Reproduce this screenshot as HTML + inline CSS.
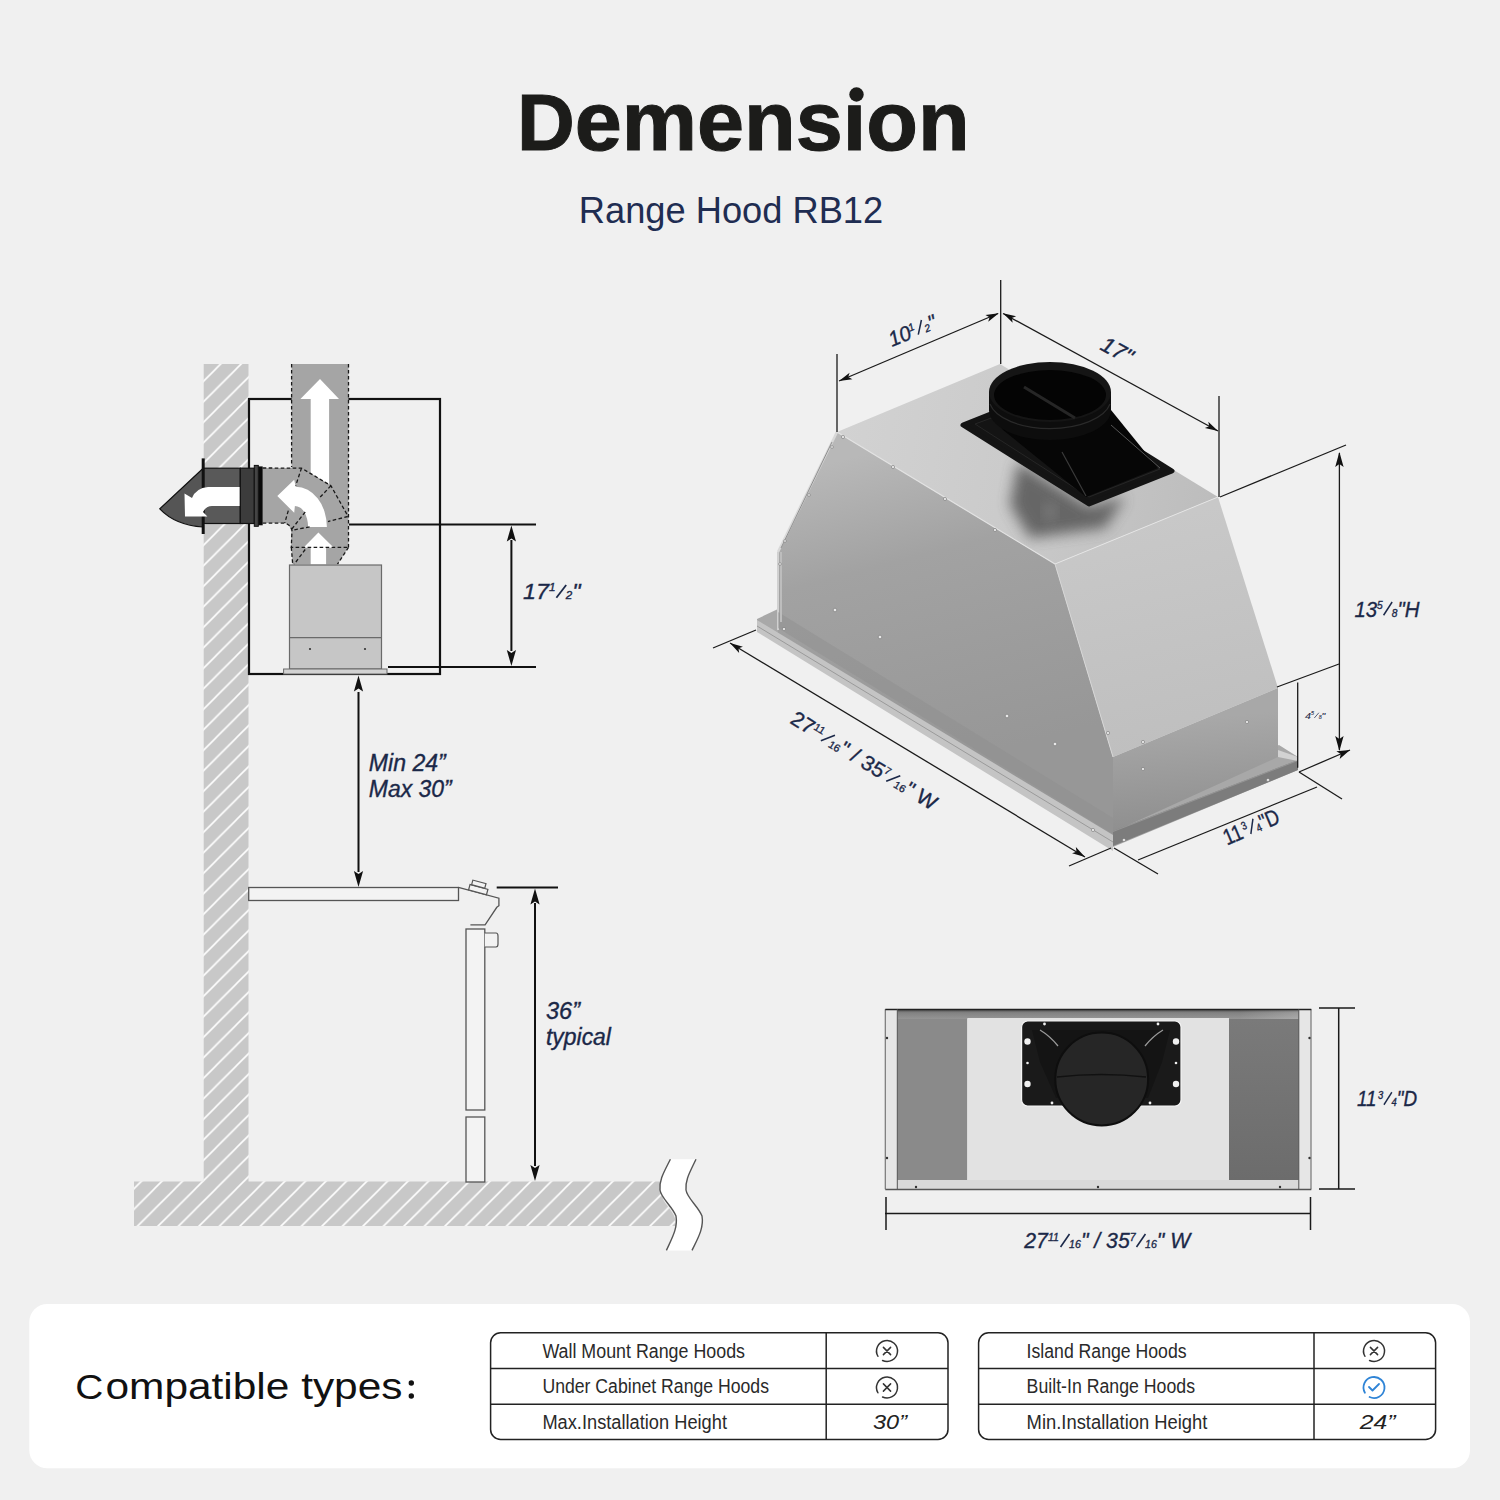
<!DOCTYPE html>
<html><head><meta charset="utf-8">
<style>
html,body{margin:0;padding:0;background:#f0f0f0;}
body{width:1500px;height:1500px;overflow:hidden;position:relative;font-family:"Liberation Sans",sans-serif;}
svg{position:absolute;left:0;top:0;display:block;}
</style></head>
<body>
<svg width="1500" height="1500" viewBox="0 0 1500 1500">
<rect width="1500" height="1500" fill="#f0f0f0"/>
<g font-family="Liberation Sans" font-weight="bold" font-size="80" fill="#1c1c1a" stroke="#1c1c1a" stroke-width="1"><text transform="translate(517,149.5) scale(1.0,1)">D</text><text transform="translate(574.8,149.5) scale(1.0575,1.05)">emension</text></g>
<rect x="845" y="84" width="20" height="17" fill="#f0f0f0"/><circle cx="856.5" cy="94.5" r="7.2" fill="#1c1c1a"/>
<text transform="translate(731,223) scale(0.98,1)" text-anchor="middle" font-family="Liberation Sans" font-size="37" fill="#1f2d52">Range Hood RB12</text>
<!-- LEFT DIAGRAM -->
<defs>
  <pattern id="hatch" patternUnits="userSpaceOnUse" width="20.5" height="20.5" patternTransform="translate(10.7,0)">
    <rect x="-1" y="-1" width="23" height="23" fill="#c8c8c8"/>
    <path d="M-3,23.5 L23.5,-3 M-3,3 L3,-3 M17.5,23.5 L23.5,17.5" stroke="#ffffff" stroke-width="1.6"/>
  </pattern>
</defs>
<!-- wall + floor -->
<rect x="203.7" y="364" width="44.8" height="820" fill="url(#hatch)"/>
<path d="M134,1181.6 L671,1181.6 C668,1190 660,1195 664,1201 C670,1210 676,1214 676,1226 L134,1226 Z" fill="url(#hatch)"/>
<!-- break symbol -->
<path d="M670.4,1159.2 C664,1172 659,1180 660,1190 C661,1198 672,1206 676,1216 C678,1228 672,1238 666.4,1250.4 L692,1250.4 C698,1238 704,1228 702,1216 C698,1206 687,1198 686,1190 C685,1180 690,1172 696,1159.2 Z" fill="#ffffff"/>
<path d="M670.4,1159.2 C664,1172 659,1180 660,1190 C661,1198 672,1206 676,1216 C678,1228 672,1238 666.4,1250.4 M696,1159.2 C690,1172 685,1180 686,1190 C687,1198 698,1206 702,1216 C704,1228 698,1238 692,1250.4" fill="none" stroke="#555" stroke-width="1.4"/>

<!-- cabinet box -->
<rect x="249" y="399" width="191" height="275" fill="none" stroke="#111" stroke-width="2.2"/>

<!-- duct vertical + elbow (gray) -->
<path d="M291.6,364 L348.5,364 L348.5,547.3 L291.3,547.3 L291.3,532 Q290,524 284.7,523.1 L262.7,523.1 L262.7,468 L291.6,468 Z" fill="#a5a5a5"/>
<polygon points="291.3,547 348.5,547 337.5,564.5 292.7,564.5" fill="#a5a5a5"/>
<!-- white arrows -->
<polygon points="310.7,473.2 310.7,399 300.4,399 320,379 339,399 329.1,399 329.1,484.2" fill="#fff"/>
<path d="M295.7,486.8 A31.2,40.3 0 0 1 326.9,527.1 L308.1,527.1 A13.2,21.2 0 0 0 294.9,505.9 L294.2,512.8 L277.3,496 L294.2,479.8 Z" fill="#fff"/>
<polygon points="310.7,564.5 310.7,547.7 303.4,547.7 318.4,532.6 333.8,547.7 326.1,547.7 326.1,564.5" fill="#fff"/>
<!-- dashed outlines -->
<g fill="none" stroke="#1a1a1a" stroke-width="1.3" stroke-dasharray="3.6,2.4">
  <path d="M291.6,364 L291.6,467"/>
  <path d="M348.5,364 L348.5,547.3"/>
  <path d="M262.7,468 L301.5,468.1 L330.9,485.7 L347.8,515.8"/>
  <path d="M262.7,523.1 L284.7,523.1 Q291,525 292,530.4 L291.3,547.3 L348.5,547.3"/>
  <path d="M301.5,468.1 L295.7,485.7 M330.9,485.7 L319.9,497.4 M347.8,516.5 L328,521.6 M305.2,512 L291.3,529.7 M309.6,526.8 L292,530.4 M288.3,510.6 L284.7,523.1"/>
  <path d="M291.3,547.3 L292.7,564.2 M348.5,547.3 L337.5,564.2 M305.2,549.5 L294.2,564.2"/>
</g>
<!-- exhaust -->
<path d="M203.2,468.2 L159.8,508.8 Q175,525 203.2,527 Z" fill="#555" stroke="#111" stroke-width="1.2"/>
<rect x="203.2" y="468.2" width="37.1" height="55.3" fill="#595959" stroke="#111" stroke-width="1.2"/>
<rect x="240.3" y="468.2" width="14" height="55.3" fill="#3c3c3c" stroke="#111" stroke-width="1.2"/>
<rect x="254.3" y="465.4" width="4" height="60.9" fill="#444" stroke="#111" stroke-width="1"/>
<rect x="258.3" y="466.4" width="4.4" height="58.9" fill="#0a0a0a"/>
<rect x="201.7" y="458.4" width="3" height="75.6" fill="#111"/>
<path d="M239.6,487 L208,487 Q196,488 192,498 L184.5,493.4 L185,516.5 L207.4,516.5 L203,512 Q206,506 212,506 L239.6,506 Z" fill="#fff"/>

<!-- hood side view -->
<rect x="289.5" y="565" width="92" height="104" fill="#c6c6c6" stroke="#6a6a6a" stroke-width="1.2"/>
<line x1="289.5" y1="637.6" x2="381.5" y2="637.6" stroke="#6a6a6a" stroke-width="1.2"/>
<circle cx="310" cy="649" r="1.1" fill="#333"/><circle cx="365" cy="649" r="1.1" fill="#333"/>
<rect x="283.6" y="669" width="103.4" height="5" fill="#d2d2d2" stroke="#6a6a6a" stroke-width="1"/>

<!-- 17 1/2 dim -->
<g stroke="#111" stroke-width="2">
<line x1="349" y1="524.5" x2="536" y2="524.5"/>
<line x1="388" y1="667" x2="536" y2="667"/>
<line x1="511.4" y1="540" x2="511.4" y2="651"/>
<line x1="358.5" y1="692" x2="358.5" y2="872"/>
<line x1="535" y1="903" x2="535" y2="1166"/>
</g>
<polygon points="511.40,525.50 516.00,541.50 511.40,538.50 506.80,541.50" fill="#111"/><polygon points="511.40,666.00 506.80,650.00 511.40,653.00 516.00,650.00" fill="#111"/><polygon points="358.50,675.50 363.10,691.50 358.50,688.50 353.90,691.50" fill="#111"/><polygon points="358.50,887.00 353.90,871.00 358.50,874.00 363.10,871.00" fill="#111"/><polygon points="535.00,888.50 539.60,904.50 535.00,901.50 530.40,904.50" fill="#111"/><polygon points="535.00,1181.00 530.40,1165.00 535.00,1168.00 539.60,1165.00" fill="#111"/>

<!-- counter and range -->
<rect x="248.7" y="887.5" width="209.8" height="13" fill="#f3f3f3" stroke="#555" stroke-width="1.3"/>
<path d="M458.4,887.4 L498.9,898.2 L498.9,905.7 L496.8,907.3 L485.1,924.9 L470.4,924.9" fill="none" stroke="#555" stroke-width="1.3"/>
<rect x="469" y="886.8" width="18.5" height="5.6" transform="rotate(15 478.2 889.6)" fill="#f3f3f3" stroke="#555" stroke-width="1.2"/>
<rect x="472" y="881.8" width="13.6" height="4.8" transform="rotate(15 478.8 884.2)" fill="#f3f3f3" stroke="#555" stroke-width="1.2"/>
<rect x="466" y="929" width="18.8" height="181" fill="#f3f3f3" stroke="#555" stroke-width="1.3"/>
<path d="M484.8,933 L496,933 Q498,933 498,936 L498,944 Q498,947 496,947 L484.8,947" fill="#f3f3f3" stroke="#555" stroke-width="1.2"/>
<rect x="466" y="1117" width="18.8" height="65" fill="#f3f3f3" stroke="#555" stroke-width="1.3"/>
<line x1="496.7" y1="887.5" x2="558" y2="887.5" stroke="#111" stroke-width="2"/>


<!-- ISO HOOD -->
<defs>
  <linearGradient id="gFront" gradientUnits="userSpaceOnUse" x1="880" y1="450" x2="960" y2="760">
    <stop offset="0" stop-color="#b8b8b8"/><stop offset="0.35" stop-color="#a2a2a2"/><stop offset="1" stop-color="#979797"/>
  </linearGradient>
  <linearGradient id="gTop" gradientUnits="userSpaceOnUse" x1="840" y1="430" x2="1210" y2="500">
    <stop offset="0" stop-color="#d2d2d2"/><stop offset="0.45" stop-color="#cbcbcb"/><stop offset="1" stop-color="#bdbdbd"/>
  </linearGradient>
  <linearGradient id="gRight" gradientUnits="userSpaceOnUse" x1="1150" y1="520" x2="1200" y2="740">
    <stop offset="0" stop-color="#c8c8c8"/><stop offset="1" stop-color="#bfbfbf"/>
  </linearGradient>
  <linearGradient id="gRightLow" gradientUnits="userSpaceOnUse" x1="1180" y1="720" x2="1190" y2="830">
    <stop offset="0" stop-color="#a8a8a8"/><stop offset="1" stop-color="#8e8e8e"/>
  </linearGradient>
  <filter id="blur10" x="-50%" y="-50%" width="200%" height="200%"><feGaussianBlur stdDeviation="7"/></filter>
</defs>
<!-- tray back/inner -->
<polygon points="757,619 778,609 1113,815 1279,745 1298,757 1298,770 1113,847 757,631" fill="#a8a8a8"/>
<!-- front faces -->
<polygon points="837,432 1055,564 1113,757 1113,840 778,634 778,552" fill="url(#gFront)"/>
<line x1="837" y1="432" x2="778" y2="552" stroke="#d8d8d8" stroke-width="2.5"/>
<line x1="832" y1="442" x2="781" y2="548" stroke="#8f8f8f" stroke-width="1"/>
<line x1="778" y1="552" x2="778" y2="630" stroke="#d0d0d0" stroke-width="2"/>
<polygon points="778,612 1113,818 1113,834 778,628" fill="#8e8e8e" opacity="0.45"/>
<line x1="781" y1="552" x2="781" y2="622" stroke="#bdbdbd" stroke-width="2"/>
<!-- right chamfer -->
<polygon points="1055,564 1218,497 1278,688 1113,757" fill="url(#gRight)"/>
<!-- right lower -->
<polygon points="1113,757 1278,688 1278,757 1113,832" fill="url(#gRightLow)"/>
<!-- top -->
<polygon points="837,432 1000,364 1218,497 1055,564" fill="url(#gTop)"/>
<clipPath id="clipTop"><polygon points="837,432 1000,364 1218,497 1055,564"/></clipPath><g clip-path="url(#clipTop)"><polygon points="1018,462 1089,506 1125,497 1105,528 1030,538 1010,505" fill="#555" opacity="0.85" filter="url(#blur10)"/><ellipse cx="1050" cy="512" rx="5" ry="9" fill="#9a9a9a" opacity="0.6" filter="url(#blur10)"/></g>
<line x1="837" y1="432" x2="1055" y2="564" stroke="#e2e2e2" stroke-width="1.2"/>
<line x1="1055" y1="564" x2="1218" y2="497" stroke="#e4e4e4" stroke-width="1"/>
<line x1="1055" y1="564" x2="1113" y2="757" stroke="#d6d6d6" stroke-width="1"/>
<!-- tray front strips -->
<polygon points="757,620 1113,835 1113,851 757,632" fill="#c4c4c4"/>
<line x1="757" y1="626" x2="1113" y2="842" stroke="#9a9a9a" stroke-width="1"/>
<polygon points="1113,831 1298,760 1298,770 1113,846" fill="#7c7c7c"/>
<line x1="1113" y1="831.5" x2="1298" y2="760.5" stroke="#9a9a9a" stroke-width="0.8"/>
<polygon points="1278,750 1298,757 1298,761 1278,757" fill="#d2d2d2"/>
<!-- duct plate -->
<polygon points="963,425 1046,392 1172,471 1089,504" fill="#141414" stroke="#141414" stroke-width="5" stroke-linejoin="round"/>
<polygon points="975,424 1046,398 1160,469 1089,497" fill="none" stroke="#262626" stroke-width="1"/>
<!-- transition -->
<polygon points="989,410 1003,430 1086,497 1158,468 1111,410" fill="#060606"/>
<path d="M1086,496 L1062,452" stroke="#3a3a3a" stroke-width="1.2"/>
<path d="M1111,425 L1160,468" stroke="#555" stroke-width="1"/>

<!-- cylinder -->
<path d="M989,392 L989,410 A61,30 0 0 0 1111,410 L1111,392 Z" fill="#0d0d0d"/>
<path d="M990,404 A61,30 0 0 0 1110,404" fill="none" stroke="#2a2a2a" stroke-width="1.2"/>
<ellipse cx="1050" cy="392" rx="61" ry="30" fill="#151515"/>
<ellipse cx="1050" cy="395" rx="56" ry="25" fill="#040404"/>
<path d="M1024,387 L1075,418" stroke="#262626" stroke-width="3"/>
<!-- screws -->
<g fill="#e8e8e8" stroke="#777" stroke-width="0.6">
 <circle cx="843" cy="437" r="1.6"/><circle cx="893" cy="467" r="1.6"/><circle cx="945" cy="499" r="1.6"/><circle cx="995" cy="530" r="1.6"/>
 <circle cx="832" cy="447" r="1.4"/><circle cx="809" cy="495" r="1.4"/><circle cx="785" cy="541" r="1.4"/><circle cx="780" cy="564" r="1.4"/>
 <circle cx="835" cy="610" r="1.8"/><circle cx="880" cy="637" r="1.8"/><circle cx="1007" cy="716" r="1.8"/><circle cx="1055" cy="744" r="1.8"/>
 <circle cx="1143" cy="742" r="1.6"/><circle cx="1108" cy="733" r="1.6"/><circle cx="1247" cy="722" r="1.6"/><circle cx="1143" cy="769" r="1.6"/>
 <circle cx="1093" cy="830" r="1.6"/><circle cx="1124" cy="840" r="1.6"/><circle cx="1268" cy="780" r="1.6"/><circle cx="784" cy="629" r="1.6"/>
</g>

<!-- iso dims -->
<g stroke="#1a1a1a" stroke-width="1.3" fill="none">
 <line x1="837" y1="354" x2="837" y2="432"/>
 <line x1="1000.7" y1="280" x2="1000.7" y2="364"/>
 <line x1="839" y1="381" x2="998" y2="313.5"/>
 <line x1="1003" y1="313.5" x2="1218" y2="431"/>
 <line x1="1219" y1="396" x2="1219" y2="497"/>
 <line x1="1220" y1="497" x2="1346" y2="445"/>
 <line x1="1339.4" y1="453" x2="1339.4" y2="750"/>
 <line x1="1277" y1="687" x2="1339" y2="664"/>
 <line x1="1297.7" y1="682.6" x2="1297.7" y2="767.7"/>
 <line x1="1299" y1="772" x2="1350" y2="750"/>
 <line x1="730" y1="643" x2="1085" y2="857"/>
 <line x1="713" y1="648" x2="756" y2="630"/>
 <line x1="1069" y1="866" x2="1111" y2="848"/>
 <line x1="1114" y1="848" x2="1158" y2="874"/>
 <line x1="1299" y1="772" x2="1342" y2="799"/>
 <line x1="1138" y1="860" x2="1317" y2="787"/>
</g>
<polygon points="998.80,313.30 988.21,321.66 989.58,317.18 985.42,315.02" fill="#111"/><polygon points="839.00,381.00 849.59,372.64 848.22,377.12 852.38,379.28" fill="#111"/><polygon points="1003.00,313.30 1016.14,316.34 1011.79,318.07 1012.71,322.66" fill="#111"/><polygon points="1218.00,431.00 1204.86,427.96 1209.21,426.23 1208.29,421.64" fill="#111"/><polygon points="1339.40,452.00 1343.60,467.00 1339.40,464.00 1335.20,467.00" fill="#111"/><polygon points="1339.40,751.00 1335.20,736.00 1339.40,739.00 1343.60,736.00" fill="#111"/><polygon points="1350.00,750.00 1339.67,758.94 1340.79,753.90 1336.39,751.21" fill="#111"/><polygon points="730.00,643.00 742.95,646.79 738.50,648.27 739.15,652.91" fill="#111"/><polygon points="1085.00,857.00 1072.05,853.21 1076.50,851.73 1075.85,847.09" fill="#111"/>

<!-- BOTTOM VIEW -->
<defs>
  <linearGradient id="gRP" x1="0" y1="0" x2="0" y2="1">
    <stop offset="0" stop-color="#7a7a7a"/><stop offset="1" stop-color="#6c6c6c"/>
  </linearGradient>
  <linearGradient id="gTS" x1="0" y1="0" x2="0" y2="1">
    <stop offset="0" stop-color="#555"/><stop offset="0.3" stop-color="#828282"/><stop offset="1" stop-color="#959595"/>
  </linearGradient>
  <linearGradient id="gTSx" x1="0" y1="0" x2="1" y2="0">
    <stop offset="0" stop-color="#fff" stop-opacity="0"/><stop offset="0.85" stop-color="#fff" stop-opacity="0"/><stop offset="1" stop-color="#fff" stop-opacity="0.2"/>
  </linearGradient>
</defs>
<rect x="885.3" y="1009.3" width="426" height="180" fill="#e6e6e6"/>
<rect x="897.3" y="1010" width="401.5" height="9" fill="url(#gTS)"/>
<rect x="897.3" y="1010" width="401.5" height="9" fill="url(#gTSx)"/>
<rect x="897.3" y="1019" width="70" height="161" fill="#8a8a8a"/>
<rect x="967.3" y="1018" width="261.7" height="162" fill="#e2e2e2"/>
<rect x="1229" y="1019" width="69.8" height="161" fill="url(#gRP)"/>
<rect x="897.3" y="1180" width="401.5" height="9.3" fill="#d9d9d9"/>
<line x1="885.3" y1="1009.3" x2="885.3" y2="1189.3" stroke="#777" stroke-width="1.2"/>
<line x1="1311" y1="1009.3" x2="1311" y2="1189.3" stroke="#777" stroke-width="1.2"/>
<line x1="885.3" y1="1009.5" x2="1311.3" y2="1009.5" stroke="#222" stroke-width="1.6"/>
<line x1="885.3" y1="1189.4" x2="1311.3" y2="1189.4" stroke="#555" stroke-width="1.5"/>
<line x1="897.3" y1="1009.3" x2="897.3" y2="1189" stroke="#555" stroke-width="1"/>
<line x1="1298.8" y1="1009.3" x2="1298.8" y2="1189" stroke="#555" stroke-width="1"/>
<rect x="1021.6" y="1021" width="159.4" height="85" rx="6" fill="#1a1a1a" stroke="#f4f4f4" stroke-width="1.2"/>
<path d="M1032,1030 L1170,1030 L1162,1062 L1148,1098 L1056,1098 L1040,1062 Z" fill="#141414"/>
<path d="M1040,1030 Q1050,1036 1058,1046 M1163,1030 Q1153,1036 1145,1046" stroke="#9a9a9a" stroke-width="1.3" fill="none"/>
<circle cx="1101.7" cy="1079" r="46.4" fill="#262626" stroke="#0e0e0e" stroke-width="2"/>
<path d="M1057,1077 Q1101,1072 1146,1077" stroke="#111" stroke-width="1.6" fill="none"/>
<g fill="#f0f0f0">
 <circle cx="1027.5" cy="1041.5" r="3.2"/><circle cx="1027.5" cy="1084" r="3.2"/><circle cx="1176" cy="1041.5" r="3.2"/><circle cx="1176" cy="1084" r="3.2"/>
 <circle cx="1044.5" cy="1024" r="1.4"/><circle cx="1158" cy="1024" r="1.4"/><circle cx="1052" cy="1103" r="1.4"/><circle cx="1150" cy="1103" r="1.4"/>
 <circle cx="1027.5" cy="1063" r="1.3"/><circle cx="1176" cy="1063" r="1.3"/>
</g>
<g fill="#333">
 <circle cx="887" cy="1038" r="1.2"/><circle cx="887" cy="1158" r="1.2"/><circle cx="1309.5" cy="1038" r="1.2"/><circle cx="1309.5" cy="1158" r="1.2"/>
 <circle cx="916" cy="1187" r="1.2"/><circle cx="1098" cy="1187" r="1.2"/><circle cx="1280" cy="1187" r="1.2"/>
</g>
<g stroke="#1a1a1a" stroke-width="1.5">
 <line x1="1319" y1="1008" x2="1355" y2="1008"/>
 <line x1="1319" y1="1189" x2="1355" y2="1189"/>
 <line x1="1338.7" y1="1008" x2="1338.7" y2="1189"/>
 <line x1="885" y1="1213.5" x2="1311" y2="1213.5"/>
 <line x1="886" y1="1197" x2="886" y2="1230"/>
 <line x1="1310.5" y1="1197" x2="1310.5" y2="1230"/>
</g>

<!-- BOTTOM CARD -->
<rect x="29.3" y="1304" width="1440.7" height="164.3" rx="18" fill="#ffffff"/>
<g font-family="Liberation Sans" font-size="36" fill="#111"><text transform="translate(75.2,1398.6) scale(1.08,1)">C</text><text transform="translate(105.5,1398.6) scale(1,1.03)" textLength="297" lengthAdjust="spacingAndGlyphs">ompatible types</text></g>
<circle cx="411.3" cy="1383" r="2.7" fill="#111"/><circle cx="411.3" cy="1396" r="2.7" fill="#111"/>
<g fill="none" stroke="#222" stroke-width="1.5">
 <rect x="490.6" y="1332.8" width="457.4" height="106.6" rx="10"/>
 <line x1="490.6" y1="1368.6" x2="948" y2="1368.6"/>
 <line x1="490.6" y1="1404.2" x2="948" y2="1404.2"/>
 <line x1="826.2" y1="1332.8" x2="826.2" y2="1439.4"/>
 <rect x="978.6" y="1332.8" width="457" height="106.6" rx="10"/>
 <line x1="978.6" y1="1368.6" x2="1435.6" y2="1368.6"/>
 <line x1="978.6" y1="1404.2" x2="1435.6" y2="1404.2"/>
 <line x1="1314" y1="1332.8" x2="1314" y2="1439.4"/>
</g>
<g font-family="Liberation Sans" font-size="20" fill="#2a2a2a">
 <text x="542.4" y="1357.8" textLength="202.6" lengthAdjust="spacingAndGlyphs">Wall Mount Range Hoods</text>
 <text x="542.4" y="1393" textLength="226.6" lengthAdjust="spacingAndGlyphs">Under Cabinet Range Hoods</text>
 <text x="542.4" y="1428.8" textLength="184.6" lengthAdjust="spacingAndGlyphs">Max.Installation Height</text>
 <text x="1026.6" y="1357.8" textLength="160" lengthAdjust="spacingAndGlyphs">Island Range Hoods</text>
 <text x="1026.6" y="1393" textLength="168.4" lengthAdjust="spacingAndGlyphs">Built-In Range Hoods</text>
 <text x="1026.6" y="1428.8" textLength="180.8" lengthAdjust="spacingAndGlyphs">Min.Installation Height</text>
</g>
<g font-family="Liberation Sans" font-size="20" font-style="italic" fill="#222">
 <text x="873" y="1429.4" textLength="34" lengthAdjust="spacingAndGlyphs">30”</text>
 <text x="1359.8" y="1429.4" textLength="35.8" lengthAdjust="spacingAndGlyphs">24”</text>
</g>
<!-- icons -->
<path d="M877.91,1356.25 A10.5,10.5 0 1 1 882.56,1360.52" fill="none" stroke="#333" stroke-width="1.5" stroke-linecap="round"/><path d="M883.40,1347.40 L890.60,1354.60 M890.60,1347.40 L883.40,1354.60" stroke="#333" stroke-width="1.5" stroke-linecap="round"/><path d="M877.91,1392.75 A10.5,10.5 0 1 1 882.56,1397.02" fill="none" stroke="#333" stroke-width="1.5" stroke-linecap="round"/><path d="M883.40,1383.90 L890.60,1391.10 M890.60,1383.90 L883.40,1391.10" stroke="#333" stroke-width="1.5" stroke-linecap="round"/><path d="M1364.91,1356.25 A10.5,10.5 0 1 1 1369.56,1360.52" fill="none" stroke="#333" stroke-width="1.5" stroke-linecap="round"/><path d="M1370.40,1347.40 L1377.60,1354.60 M1377.60,1347.40 L1370.40,1354.60" stroke="#333" stroke-width="1.5" stroke-linecap="round"/><path d="M1364.91,1392.75 A10.5,10.5 0 1 1 1369.56,1397.02" fill="none" stroke="#2f84d6" stroke-width="1.8" stroke-linecap="round"/><path d="M1369.00,1387.00 L1372.50,1390.50 L1379.00,1384.00" fill="none" stroke="#2f84d6" stroke-width="1.8" stroke-linecap="round" stroke-linejoin="round"/>
<g transform="translate(368.80,770.80) scale(1.0040,1)" fill="#1b2848" stroke="#1b2848" stroke-width="0.35" font-family="Liberation Sans" ><text x="0.00" y="0" font-size="23" font-style="italic">Min 24”</text></g>
<g transform="translate(368.80,796.80) scale(0.9990,1)" fill="#1b2848" stroke="#1b2848" stroke-width="0.35" font-family="Liberation Sans" ><text x="0.00" y="0" font-size="23" font-style="italic">Max 30”</text></g>
<g transform="translate(546.00,1018.80) scale(1.0228,1)" fill="#1b2848" stroke="#1b2848" stroke-width="0.35" font-family="Liberation Sans" ><text x="0.00" y="0" font-size="23" font-style="italic">36”</text></g>
<g transform="translate(546.00,1044.80) scale(0.9970,1)" fill="#1b2848" stroke="#1b2848" stroke-width="0.35" font-family="Liberation Sans" ><text x="0.00" y="0" font-size="23" font-style="italic">typical</text></g>
<g transform="translate(523.00,599.00) scale(1.0610,1)" fill="#1b2848" stroke="#1b2848" stroke-width="0.35" font-family="Liberation Sans" ><text x="0.00" y="0" font-size="22" font-style="italic">17</text><text x="24.47" y="-7.57" font-size="11.00" font-style="italic">1</text><line x1="31.47" y1="-1.32" x2="40.71" y2="-14.08" stroke="#1b2848" stroke-width="1.65"/><text x="40.27" y="0" font-size="11.00" font-style="italic">2</text><text x="46.39" y="0" font-size="22" font-style="italic">"</text></g>
<g transform="translate(892.00,347.00) rotate(-22.8) scale(0.9665,1)" fill="#1b2848" stroke="#1b2848" stroke-width="0.35" font-family="Liberation Sans" ><text x="0.00" y="0" font-size="21" font-style="italic">10</text><text x="23.36" y="-7.22" font-size="10.50" font-style="italic">1</text><line x1="30.04" y1="-1.26" x2="38.86" y2="-13.44" stroke="#1b2848" stroke-width="1.57"/><text x="38.44" y="0" font-size="10.50" font-style="italic">2</text><text x="44.28" y="0" font-size="21" font-style="italic">"</text></g>
<g transform="translate(1099.00,349.00) rotate(28.5) scale(1.0223,1)" fill="#1b2848" stroke="#1b2848" stroke-width="0.35" font-family="Liberation Sans" ><text x="0.00" y="0" font-size="22" font-style="italic">17"</text></g>
<g transform="translate(1354.40,616.50) scale(0.8989,1)" fill="#1b2848" stroke="#1b2848" stroke-width="0.35" font-family="Liberation Sans" ><text x="0.00" y="0" font-size="22.7" font-style="italic">13</text><text x="25.25" y="-7.81" font-size="11.35" font-style="italic">5</text><line x1="32.47" y1="-1.36" x2="42.00" y2="-14.53" stroke="#1b2848" stroke-width="1.70"/><text x="41.55" y="0" font-size="11.35" font-style="italic">8</text><text x="47.86" y="0" font-size="22.7" font-style="italic">"H</text></g>
<g transform="translate(1305.00,718.50) scale(1.1884,1)" fill="#1b2848" stroke="#1b2848" stroke-width="0.1" font-family="Liberation Sans" ><text x="0.00" y="0" font-size="9" font-style="italic">4</text><text x="5.01" y="-3.10" font-size="4.50" font-style="italic">5</text><line x1="7.87" y1="-0.54" x2="11.65" y2="-5.76" stroke="#1b2848" stroke-width="0.67"/><text x="11.47" y="0" font-size="4.50" font-style="italic">8</text><text x="13.97" y="0" font-size="9" font-style="italic">"</text></g>
<g transform="translate(789.00,722.50) rotate(31.8) scale(1.0235,1)" fill="#1b2848" stroke="#1b2848" stroke-width="0.35" font-family="Liberation Sans" ><text x="0.00" y="0" font-size="21" >27</text><text x="23.36" y="-7.22" font-size="10.50" >11</text><line x1="35.88" y1="-1.26" x2="44.70" y2="-13.44" stroke="#1b2848" stroke-width="1.57"/><text x="44.28" y="0" font-size="10.50" >16</text><text x="55.96" y="0" font-size="21" >" / 35</text><text x="104.27" y="-7.22" font-size="10.50" >7</text><line x1="110.95" y1="-1.26" x2="119.77" y2="-13.44" stroke="#1b2848" stroke-width="1.57"/><text x="119.35" y="0" font-size="10.50" >16</text><text x="131.03" y="0" font-size="21" >" W</text></g>
<g transform="translate(1227.00,845.50) rotate(-23) scale(0.8231,1)" fill="#1b2848" stroke="#1b2848" stroke-width="0.35" font-family="Liberation Sans" ><text x="0.00" y="0" font-size="22.5" >11</text><text x="25.03" y="-7.74" font-size="11.25" >3</text><line x1="32.18" y1="-1.35" x2="41.63" y2="-14.40" stroke="#1b2848" stroke-width="1.69"/><text x="41.18" y="0" font-size="11.25" >4</text><text x="47.44" y="0" font-size="22.5" >"D</text></g>
<g transform="translate(1024.30,1248.30) scale(0.9439,1)" fill="#1b2848" stroke="#1b2848" stroke-width="0.35" font-family="Liberation Sans" ><text x="0.00" y="0" font-size="22.5" font-style="italic">27</text><text x="25.03" y="-7.74" font-size="11.25" font-style="italic">11</text><line x1="38.44" y1="-1.35" x2="47.89" y2="-14.40" stroke="#1b2848" stroke-width="1.69"/><text x="47.44" y="0" font-size="11.25" font-style="italic">16</text><text x="59.95" y="0" font-size="22.5" font-style="italic">" / 35</text><text x="111.72" y="-7.74" font-size="11.25" font-style="italic">7</text><line x1="118.88" y1="-1.35" x2="128.33" y2="-14.40" stroke="#1b2848" stroke-width="1.69"/><text x="127.88" y="0" font-size="11.25" font-style="italic">16</text><text x="140.39" y="0" font-size="22.5" font-style="italic">" W</text></g>
<g transform="translate(1357.00,1106.00) scale(0.8801,1)" fill="#1b2848" stroke="#1b2848" stroke-width="0.35" font-family="Liberation Sans" ><text x="0.00" y="0" font-size="21.4" font-style="italic">11</text><text x="23.80" y="-7.36" font-size="10.70" font-style="italic">3</text><line x1="30.61" y1="-1.28" x2="39.60" y2="-13.70" stroke="#1b2848" stroke-width="1.60"/><text x="39.17" y="0" font-size="10.70" font-style="italic">4</text><text x="45.12" y="0" font-size="21.4" font-style="italic">"D</text></g>
</svg>
</body></html>
